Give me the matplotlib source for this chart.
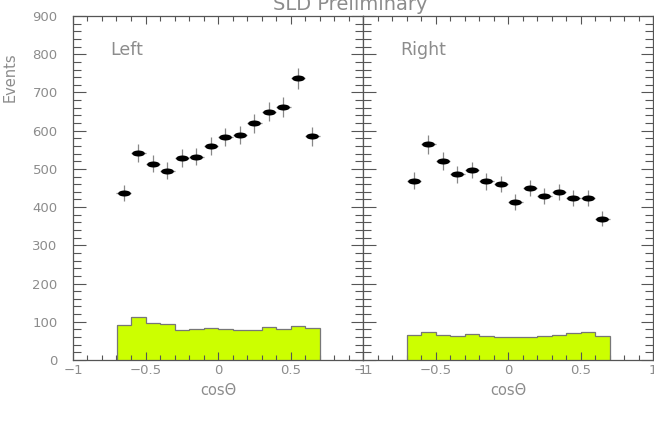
import numpy as np
import matplotlib
matplotlib.use("Agg")
import matplotlib.pyplot as plt
from matplotlib.path import Path
from matplotlib.transforms import Affine2D
from matplotlib.ticker import MultipleLocator

# ---- data ----
bin_edges = [-0.7, -0.6, -0.5, -0.4, -0.3, -0.2, -0.1, 0.0, 0.1, 0.2, 0.3, 0.4, 0.5, 0.6, 0.7]
bin_centers = [-0.65, -0.55, -0.45, -0.35, -0.25, -0.15, -0.05, 0.05, 0.15, 0.25, 0.35, 0.45, 0.55, 0.65]

left_data = [436, 541, 514, 495, 529, 532, 560, 583, 588, 619, 649, 662, 737, 585]
left_err = [21, 23, 23, 22, 23, 23, 24, 24, 24, 25, 25, 26, 27, 24]
left_bkg = [92, 113, 96, 94, 78, 81, 83, 81, 79, 78, 86, 81, 90, 84]

right_data = [469, 564, 521, 486, 497, 468, 460, 413, 450, 428, 440, 423, 423, 370]
right_err = [22, 24, 23, 22, 22, 22, 21, 20, 21, 21, 21, 21, 21, 19]
right_bkg = [65, 74, 65, 64, 69, 62, 59, 61, 59, 62, 66, 71, 74, 63]

panel_labels = ["Left", "Right"]
title = "SLD Preliminary"
ylabel = "Events"
xlabel = "cos\u0398"

# ---- style ----
txt = "#8c8c8c"
spc = "#555555"
fill_c = "#ccff00"

fig = plt.figure(figsize=(6.54, 4.36), dpi=100)
W, H = 654, 436
x0, xm, x1 = 73, 363, 653
ytop, ybot = 16, 360

ell = Path.unit_circle().transformed(Affine2D().scale(1, 0.47))

axes = []
for i, (d, e, b, lab) in enumerate([(left_data, left_err, left_bkg, panel_labels[0]),
                                      (right_data, right_err, right_bkg, panel_labels[1])]):
    l = (x0 if i == 0 else xm) / W
    w = (xm - x0) / W if i == 0 else (x1 - xm) / W
    ax = fig.add_axes([l, (H - ybot) / H, w, (ybot - ytop) / H])
    axes.append(ax)
    ax.stairs(b, bin_edges, fill=True, color=fill_c, zorder=1)
    ax.stairs(b, bin_edges, fill=False, baseline=0, color="#777777", linewidth=0.9, zorder=2)
    ax.errorbar(bin_centers, d, yerr=e, xerr=0.05, fmt="none", ecolor="#888888",
                elinewidth=0.9, zorder=3)
    ax.plot(bin_centers, d, linestyle="none", marker=ell, markersize=9.2,
            color="black", markeredgewidth=0, zorder=4)
    ax.set_xlim(-1, 1)
    ax.set_ylim(0, 900)
    ax.xaxis.set_major_locator(MultipleLocator(0.5))
    ax.xaxis.set_minor_locator(MultipleLocator(0.1))
    ax.yaxis.set_major_locator(MultipleLocator(100))
    ax.yaxis.set_minor_locator(MultipleLocator(20))
    ax.tick_params(which="both", direction="in", top=True, right=True,
                   color=spc, width=0.8, labelcolor=txt, labelsize=9.5)
    ax.tick_params(axis="y", which="major", length=9)
    ax.tick_params(axis="y", which="minor", length=5.5)
    ax.tick_params(axis="x", which="major", length=6)
    ax.tick_params(axis="x", which="minor", length=3.5)
    ax.tick_params(axis="x", pad=3)
    ax.set_xticks([-1, -0.5, 0, 0.5, 1])
    ax.set_xticklabels(["\u22121", "\u22120.5", "0", "0.5", "1"])
    if i == 1:
        ax.tick_params(axis="y", labelleft=False)
    else:
        ax.set_yticks(range(0, 901, 100))
        ax.set_yticklabels([str(v) for v in range(0, 901, 100)])
        ax.tick_params(axis="y", pad=11)
    for s in ax.spines.values():
        s.set_color(spc)
        s.set_linewidth(0.9)
    ax.text(0.13, 0.9, lab, transform=ax.transAxes, color=txt, fontsize=12.5,
            ha="left", va="center")
    ax.set_xlabel(xlabel, color=txt, fontsize=10.5, labelpad=4)

fig.text(350 / W, 1 - 5 / H, title, color=txt, fontsize=14, ha="center", va="center")
fig.text(10 / W, 1 - 52 / H, ylabel, color=txt, fontsize=10.5, rotation=90,
         ha="center", va="top")

fig.savefig("out.png", dpi=100)
